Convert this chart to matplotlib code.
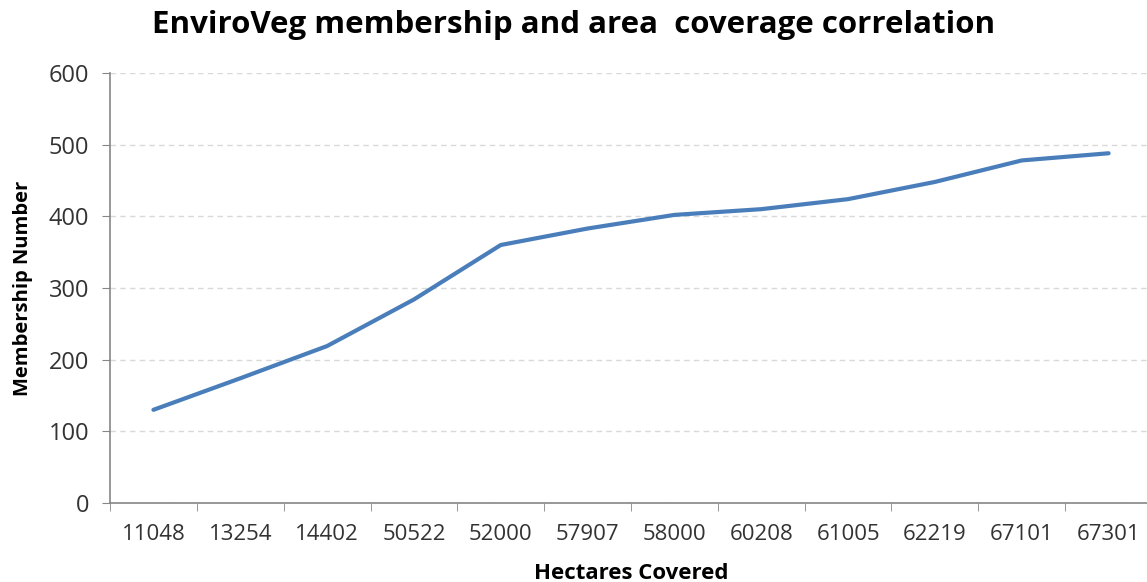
import matplotlib
matplotlib.use("Agg")
import matplotlib.pyplot as plt
import numpy as np

# hectares covered (category labels) and membership numbers
hectares = ["11048", "13254", "14402", "50522", "52000", "57907",
            "58000", "60208", "61005", "62219", "67101", "67301"]
members = [130, 174, 219, 284, 360, 383, 402, 410, 424, 448, 478, 488]
y_ticks = [0, 100, 200, 300, 400, 500, 600]

plt.rcParams["font.family"] = ["Open Sans", "DejaVu Sans"]

fig = plt.figure(figsize=(11.47, 5.82), dpi=100)
ax = fig.add_axes([110 / 1147, 79 / 582, 1042 / 1147, 430 / 582])

x = np.arange(len(hectares))
ax.plot(x, members, color="#4a7ebb", linewidth=3.0, solid_capstyle="round", zorder=3)

ax.set_xlim(-0.5, len(hectares) - 0.5)
ax.set_ylim(0, 600)
ax.set_yticks(y_ticks)
ax.set_yticklabels([str(v) for v in y_ticks], fontsize=17, color="#333333")

# category labels centred, tick marks on category boundaries
ax.set_xticks(x)
ax.set_xticklabels(hectares, fontsize=16, color="#333333")
ax.tick_params(axis="x", which="major", length=0, pad=15)
ax.set_xticks(np.arange(len(hectares) + 1) - 0.5, minor=True)
ax.tick_params(axis="x", which="minor", length=6, color="#868686", direction="out")
ax.tick_params(axis="y", length=6, color="#868686", direction="out", pad=9)

ax.grid(axis="y", color="#d9d9d9", linestyle=(0, (4, 3)), linewidth=1.0)
ax.set_axisbelow(True)
for side in ["top", "right"]:
    ax.spines[side].set_visible(False)
for side in ["left", "bottom"]:
    ax.spines[side].set_color("#868686")
    ax.spines[side].set_linewidth(1.2)

ax.set_xlabel("Hectares Covered", fontsize=16, fontweight="bold", labelpad=13)
ax.set_ylabel("Membership Number", fontsize=14.5, fontweight="bold", labelpad=11)
fig.text(0.5, 0.957, "EnviroVeg membership and area  coverage correlation",
         ha="center", va="center", fontsize=22.5, fontweight="bold")

fig.savefig("out.png", dpi=100)
